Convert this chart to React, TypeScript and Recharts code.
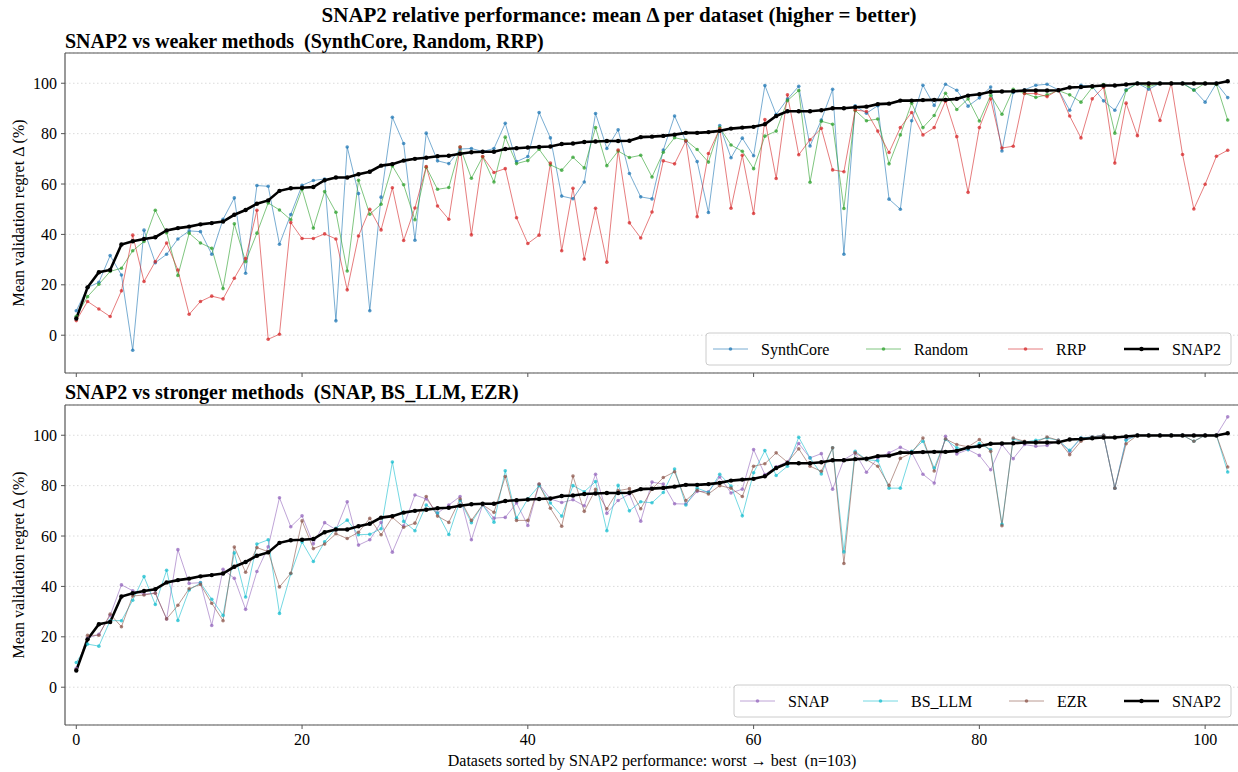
import React from 'react';
import { LineChart, Line, XAxis, YAxis, CartesianGrid, ReferenceLine } from 'recharts';

const FONT = "'Liberation Serif', 'DejaVu Serif', serif";

const snap2 = [6.6, 19.0, 25.0, 25.9, 36.0, 37.3, 38.2, 38.9, 41.6, 42.5, 43.1, 44.0, 44.5, 45.1, 47.8, 49.7, 52.2, 53.5, 57.3, 58.3, 58.5, 58.8, 61.5, 62.6, 62.6, 63.9, 64.9, 67.3, 67.9, 69.3, 70.0, 70.4, 71.0, 71.2, 72.0, 72.6, 72.8, 72.8, 73.9, 74.2, 74.5, 74.7, 74.9, 75.9, 76.1, 76.7, 76.9, 77.1, 77.1, 77.2, 78.6, 78.8, 79.1, 79.6, 80.3, 80.3, 80.6, 81.1, 82.0, 82.4, 82.7, 83.7, 87.0, 88.9, 88.9, 88.9, 89.3, 90.1, 90.1, 90.5, 90.7, 91.7, 91.9, 93.1, 93.1, 93.3, 93.4, 93.4, 93.8, 95.1, 95.6, 96.6, 96.7, 96.8, 97.1, 97.1, 97.1, 97.2, 98.3, 98.5, 98.8, 99.1, 99.1, 99.5, 99.9, 99.9, 99.9, 99.9, 99.9, 99.9, 99.9, 99.9, 100.8];

const synthCore = [9.7, 18.9, 21.0, 31.6, 23.9, -6.0, 41.7, 28.8, 32.1, 38.2, 41.4, 41.1, 32.1, 46.0, 54.5, 24.6, 59.4, 59.1, 36.1, 47.9, 59.5, 61.4, 62.0, 5.7, 74.7, 56.2, 9.7, 54.8, 86.5, 76.1, 37.7, 80.2, 69.2, 68.1, 73.9, 74.1, 72.9, 74.1, 84.1, 68.9, 70.9, 88.4, 78.3, 55.2, 54.2, 60.8, 88.0, 74.1, 81.5, 64.2, 54.9, 54.1, 73.5, 87.0, 77.0, 68.9, 48.7, 83.2, 70.4, 78.2, 71.2, 99.1, 87.6, 93.7, 98.8, 75.1, 85.4, 97.6, 32.1, 91.0, 88.1, 91.1, 54.0, 50.0, 85.1, 99.2, 91.2, 99.6, 97.2, 90.9, 94.2, 98.5, 73.1, 96.3, 97.4, 99.2, 99.6, 97.4, 89.3, 99.2, 98.7, 93.0, 89.3, 97.4, 100.0, 97.6, 100.0, 100.0, 100.0, 97.4, 92.5, 100.0, 94.3];

const random = [7.5, 15.3, 20.2, 25.3, 26.6, 33.5, 37.2, 49.6, 40.7, 23.7, 40.5, 36.6, 34.5, 18.5, 44.2, 29.2, 40.5, 52.5, 49.7, 45.8, 57.9, 42.5, 57.0, 48.8, 25.5, 61.5, 48.0, 52.0, 67.2, 59.7, 45.8, 66.7, 57.9, 58.6, 74.7, 62.3, 70.8, 60.8, 78.6, 68.1, 69.3, 73.8, 67.6, 65.5, 70.6, 66.4, 82.4, 67.3, 73.1, 70.5, 71.4, 62.8, 72.6, 78.4, 77.4, 73.7, 68.7, 82.4, 75.5, 73.0, 66.1, 79.0, 81.0, 93.1, 97.1, 60.7, 84.9, 83.7, 50.3, 89.2, 85.1, 85.8, 68.0, 79.5, 92.1, 82.4, 87.2, 96.0, 89.6, 93.8, 85.0, 95.2, 87.7, 97.6, 96.0, 94.4, 95.4, 97.1, 95.4, 92.5, 98.3, 99.5, 80.2, 97.1, 100.0, 98.7, 99.9, 100.0, 99.9, 97.2, 100.0, 99.5, 85.4];

const rrp = [5.8, 13.4, 10.4, 7.4, 17.6, 39.7, 21.3, 29.2, 36.6, 25.9, 8.3, 13.4, 15.5, 14.4, 22.6, 30.4, 49.6, -1.6, 0.4, 44.7, 38.4, 38.4, 40.2, 38.2, 18.0, 39.4, 50.0, 41.8, 58.5, 37.6, 50.5, 66.9, 51.3, 46.0, 74.7, 39.8, 70.9, 64.6, 66.1, 46.6, 36.4, 39.7, 68.3, 33.5, 58.3, 30.2, 50.4, 29.0, 73.5, 44.6, 38.6, 48.9, 69.2, 68.0, 77.1, 47.0, 72.1, 81.9, 50.4, 71.4, 48.3, 85.6, 62.2, 95.4, 71.6, 77.6, 82.1, 65.6, 64.9, 89.4, 88.8, 81.0, 72.5, 82.4, 88.4, 79.5, 82.4, 92.9, 78.8, 56.7, 82.4, 93.8, 74.3, 75.0, 95.9, 95.9, 94.7, 97.4, 87.0, 78.3, 93.8, 98.4, 68.3, 92.1, 79.2, 99.6, 85.2, 100.0, 71.7, 50.1, 59.9, 71.0, 73.4];

const snap = [7.5, 19.5, 21.0, 28.5, 40.6, 38.3, 36.9, 37.4, 27.1, 54.6, 41.2, 41.5, 24.5, 46.8, 43.2, 30.9, 45.9, 55.7, 75.2, 63.7, 68.0, 56.9, 65.3, 62.5, 73.6, 56.4, 58.5, 65.4, 53.6, 64.1, 76.3, 74.7, 69.1, 72.3, 75.7, 58.5, 72.4, 67.1, 67.4, 73.1, 64.2, 80.5, 74.7, 73.3, 74.4, 72.0, 84.5, 69.0, 74.1, 76.7, 65.9, 81.4, 80.6, 72.8, 72.7, 77.7, 77.6, 83.4, 77.1, 78.6, 94.3, 84.4, 87.5, 89.5, 96.7, 91.0, 92.7, 78.6, 90.3, 93.0, 85.3, 91.0, 93.0, 95.2, 93.2, 84.5, 81.0, 99.6, 92.6, 94.3, 92.0, 86.3, 96.3, 90.7, 96.3, 95.6, 95.9, 98.0, 93.6, 98.9, 99.3, 100.0, 79.0, 98.3, 100.0, 100.0, 100.0, 100.0, 100.0, 100.0, 100.0, 100.0, 107.3];

const bsLlm = [9.8, 17.1, 16.3, 26.4, 26.4, 34.5, 43.9, 32.8, 46.4, 26.5, 38.6, 41.4, 34.9, 28.5, 53.3, 35.8, 56.8, 58.5, 29.3, 45.0, 57.6, 49.9, 57.7, 63.1, 66.3, 60.5, 60.7, 62.9, 89.4, 65.8, 62.1, 72.3, 69.1, 60.6, 74.1, 65.3, 72.4, 65.5, 85.9, 67.1, 74.7, 80.0, 73.1, 67.9, 80.0, 77.6, 81.6, 62.1, 80.1, 70.0, 73.6, 73.2, 77.3, 86.6, 72.3, 79.0, 77.3, 84.5, 79.8, 68.0, 85.1, 93.9, 84.0, 87.7, 99.2, 91.0, 84.6, 95.0, 53.7, 93.6, 90.3, 89.9, 79.0, 79.0, 93.6, 97.6, 87.0, 98.3, 95.0, 94.3, 96.7, 94.3, 64.7, 98.5, 97.3, 98.0, 98.9, 98.0, 94.0, 98.9, 99.3, 100.0, 79.0, 98.0, 100.0, 100.0, 100.0, 100.0, 100.0, 97.6, 100.0, 100.0, 85.4];

const ezr = [7.0, 20.6, 20.6, 29.0, 24.0, 36.2, 36.6, 37.3, 27.1, 32.5, 39.1, 40.8, 33.3, 26.4, 55.6, 45.6, 55.4, 53.8, 39.8, 45.2, 66.0, 55.0, 56.8, 60.9, 59.0, 61.5, 67.0, 60.5, 67.4, 63.5, 65.1, 75.7, 67.9, 65.4, 74.7, 66.2, 72.4, 69.4, 83.6, 66.2, 66.2, 80.6, 71.0, 63.9, 83.8, 69.8, 78.5, 70.8, 78.0, 78.8, 70.8, 78.6, 83.2, 85.5, 74.1, 78.1, 76.7, 80.0, 79.0, 75.7, 87.7, 88.7, 93.0, 89.3, 94.6, 87.7, 85.7, 95.0, 49.1, 93.0, 90.3, 87.7, 80.1, 90.8, 93.0, 98.9, 85.8, 98.5, 96.3, 95.4, 98.3, 93.6, 64.1, 98.9, 97.6, 97.2, 99.3, 98.0, 92.3, 97.6, 99.3, 100.0, 79.0, 96.6, 100.0, 100.0, 100.0, 100.0, 100.0, 97.6, 100.0, 100.0, 87.4];

const xTicks = [0, 20, 40, 60, 80, 100];
const yTicks = [0, 20, 40, 60, 80, 100];

const rows = snap2.map((v, i) => ({
  i,
  snap2: v,
  synthCore: synthCore[i],
  random: random[i],
  rrp: rrp[i],
  snap: snap[i],
  bsLlm: bsLlm[i],
  ezr: ezr[i],
}));

const weaker = [
  { key: 'synthCore', name: 'SynthCore', color: '#1f77b4' },
  { key: 'random', name: 'Random', color: '#2ca02c' },
  { key: 'rrp', name: 'RRP', color: '#d62728' },
];
const stronger = [
  { key: 'snap', name: 'SNAP', color: '#9467bd' },
  { key: 'bsLlm', name: 'BS_LLM', color: '#17becf' },
  { key: 'ezr', name: 'EZR', color: '#8c564b' },
];

const SPINE = '#555';
const YLABEL = 'Mean validation regret Δ (%)';
const PRE = { whiteSpace: 'pre' as const };

const YLabel = (props: any) => {
  const vb = props.viewBox || {};
  const cy = (vb.y || 0) + (vb.height || 0) / 2;
  return (
    <text x={18} y={cy} transform={`rotate(-90 18 ${cy})`} textAnchor="middle" dominantBaseline="central" fontSize={16} fill="#000" fontFamily={FONT}>
      {YLABEL}
    </text>
  );
};

const XLabel = () => (
  <text x={652} y={381} textAnchor="middle" fontSize={16} fill="#000" fontFamily={FONT} style={PRE}>
    {'Datasets sorted by SNAP2 performance: worst → best  (n=103)'}
  </text>
);

function Panel({ series, top, height, marginTop, xHeight, showX }: any) {
  return (
    <div style={{ position: 'absolute', left: 0, top }}>
      <LineChart width={1239} height={height} data={rows} margin={{ top: marginTop, right: 0, bottom: 0, left: 0 }}>
        <CartesianGrid vertical={false} stroke="#d0d0d0" strokeDasharray="1.5 2.5" strokeWidth={0.8} />
        <XAxis
          dataKey="i"
          type="number"
          domain={[-1, 103]}
          ticks={xTicks}
          allowDataOverflow
          height={xHeight}
          tickSize={4}
          tickMargin={5}
          axisLine={{ stroke: SPINE, strokeWidth: 1.2 }}
          tickLine={{ stroke: SPINE }}
          tick={{ fill: '#000', fontSize: 16, fontFamily: FONT }}
          tickFormatter={(v: number) => (showX ? String(v) : '')}
          label={showX ? { content: () => <XLabel /> } : undefined}
        />
        <YAxis
          type="number"
          domain={[-15, 112]}
          ticks={yTicks}
          allowDataOverflow
          width={65}
          tickSize={4}
          tickMargin={4}
          axisLine={{ stroke: SPINE, strokeWidth: 1.2 }}
          tickLine={{ stroke: SPINE }}
          tick={{ fill: '#000', fontSize: 16, fontFamily: FONT }}
          label={{ content: (p: any) => <YLabel {...p} /> }}
        />
        <ReferenceLine y={112} stroke={SPINE} strokeWidth={1.2} />
        {series.map((s: any) => (
          <Line
            key={s.key}
            type="linear"
            dataKey={s.key}
            name={s.name}
            stroke={s.color}
            strokeWidth={1}
            strokeOpacity={0.6}
            dot={{ r: 1.8, fill: s.color, fillOpacity: 0.75, stroke: 'none' }}
            activeDot={false}
            isAnimationActive={false}
          />
        ))}
        <Line
          type="linear"
          dataKey="snap2"
          name="SNAP2"
          stroke="#000"
          strokeWidth={2.6}
          dot={{ r: 2.2, fill: '#000', stroke: 'none' }}
          activeDot={false}
          isAnimationActive={false}
        />
      </LineChart>
    </div>
  );
}

function LegendBox({ x, y, w, items }: any) {
  const cy = y + 16;
  return (
    <g>
      <rect x={x} y={y} width={w} height={32} rx={3} fill="#fff" fillOpacity={0.85} stroke="#cccccc" strokeWidth={1} />
      {items.map((it: any) => (
        <g key={it.name}>
          <line x1={it.hx} x2={it.hx + 35} y1={cy} y2={cy} stroke={it.color} strokeWidth={it.bold ? 2.6 : 1} strokeOpacity={it.bold ? 1 : 0.6} />
          <circle cx={it.hx + 17.5} cy={cy} r={it.bold ? 2.2 : 1.8} fill={it.color} fillOpacity={it.bold ? 1 : 0.75} />
          <text x={it.tx} y={cy + 5.5} fontSize={16} fill="#000" fontFamily={FONT}>{it.name}</text>
        </g>
      ))}
    </g>
  );
}

export default function App() {
  const topItems = [
    { name: 'SynthCore', color: '#1f77b4', hx: 713, tx: 761 },
    { name: 'Random', color: '#2ca02c', hx: 866, tx: 914 },
    { name: 'RRP', color: '#d62728', hx: 1008, tx: 1056 },
    { name: 'SNAP2', color: '#000', hx: 1124, tx: 1172, bold: true },
  ];
  const botItems = [
    { name: 'SNAP', color: '#9467bd', hx: 740, tx: 788 },
    { name: 'BS_LLM', color: '#17becf', hx: 863, tx: 911 },
    { name: 'EZR', color: '#8c564b', hx: 1009, tx: 1057 },
    { name: 'SNAP2', color: '#000', hx: 1124, tx: 1172, bold: true },
  ];
  return (
    <div style={{ position: 'absolute', left: 0, top: 0, width: 1238, height: 772, overflow: 'hidden', background: '#fff', fontFamily: FONT }}>
      <Panel series={weaker} top={0} height={383} marginTop={53} xHeight={10} showX={false} />
      <Panel series={stronger} top={385} height={387} marginTop={20} xHeight={47} showX={true} />
      <svg width={1238} height={772} style={{ position: 'absolute', left: 0, top: 0, pointerEvents: 'none' }}>
        <text x={619} y={22} textAnchor="middle" fontSize={21} fontWeight="bold" fill="#000" fontFamily={FONT} style={PRE}>
          {'SNAP2 relative performance: mean Δ per dataset (higher = better)'}
        </text>
        <text x={65} y={48} fontSize={20} fontWeight="bold" fill="#000" fontFamily={FONT} style={PRE}>
          {'SNAP2 vs weaker methods  (SynthCore, Random, RRP)'}
        </text>
        <text x={65} y={399} fontSize={20} fontWeight="bold" fill="#000" fontFamily={FONT} style={PRE}>
          {'SNAP2 vs stronger methods  (SNAP, BS_LLM, EZR)'}
        </text>
        <LegendBox x={706} y={333} w={525} items={topItems} />
        <LegendBox x={734} y={685} w={497} items={botItems} />
      </svg>
    </div>
  );
}
